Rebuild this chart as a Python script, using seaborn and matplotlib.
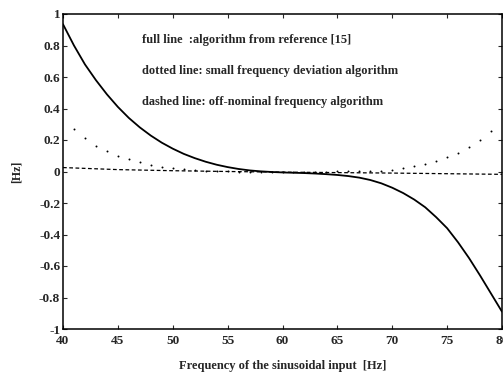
import numpy as np
import pandas as pd
import seaborn as sb
import matplotlib
matplotlib.use("Agg")
import matplotlib.pyplot as plt

# input frequency [Hz]
freq = list(range(40, 81))

# full line: algorithm from reference [15]
full_err = [0.935, 0.80, 0.68, 0.58, 0.49, 0.41, 0.34, 0.28, 0.228, 0.183,
            0.145, 0.112, 0.085, 0.062, 0.043, 0.028, 0.016, 0.007, 0.001, -0.003,
            -0.006, -0.008, -0.01, -0.013, -0.017, -0.022, -0.029, -0.039, -0.054, -0.075,
            -0.103, -0.137, -0.178, -0.227, -0.29, -0.36, -0.45, -0.55, -0.66, -0.775,
            -0.89]

# dotted line: small frequency deviation algorithm (one dot per Hz)
dot_freq = list(range(41, 80))
dot_err = [0.27, 0.21, 0.165, 0.13, 0.10, 0.078, 0.058, 0.043, 0.031,
           0.021, 0.014, 0.009, 0.005, 0.003, 0.001, 0.0, 0.0, 0.0, 0.0,
           0.0, 0.0, 0.0, 0.0, 0.0, 0.001, 0.001, 0.002, 0.003, 0.005,
           0.009, 0.02, 0.034, 0.049, 0.066, 0.091, 0.119, 0.155, 0.20, 0.255]

# dashed line: off-nominal frequency algorithm
dash_freq = [40, 45, 50, 55, 60, 65, 70, 75, 80]
dash_err = [0.025, 0.012, 0.005, 0.0, -0.004, -0.007, -0.01, -0.014, -0.018]

xticks = [40, 45, 50, 55, 60, 65, 70, 75, 80]
yticks = [-1, -0.8, -0.6, -0.4, -0.2, 0, 0.2, 0.4, 0.6, 0.8, 1]
ytick_labels = ["-1", "-0.8", "-0.6", "-0.4", "-0.2", "0", "0.2", "0.4", "0.6", "0.8", "1"]

notes = ["full line  :algorithm from reference [15]",
         "dotted line: small frequency deviation algorithm",
         "dashed line: off-nominal frequency algorithm"]

sb.set_style("ticks")
plt.rcParams["font.family"] = ["Liberation Serif", "DejaVu Serif"]
plt.rcParams["font.weight"] = "bold"

fig = plt.figure(figsize=(5.03, 3.77), dpi=100)
ax = fig.add_axes([63 / 503, 1 - 329 / 377, 439 / 503, 315 / 377])

full = pd.DataFrame({"f": freq, "err": full_err})
dots = pd.DataFrame({"f": dot_freq, "err": dot_err})
dash = pd.DataFrame({"f": dash_freq, "err": dash_err})

sb.lineplot(data=full, x="f", y="err", color="black", linewidth=1.3, ax=ax)
sb.lineplot(data=dash, x="f", y="err", color="black", linewidth=0.9,
            linestyle=(0, (3, 2)), ax=ax)
sb.scatterplot(data=dots, x="f", y="err", color="black", s=2, marker="o",
               linewidth=0, ax=ax)

ax.set_xlim(40, 80)
ax.set_ylim(-1, 1)
ax.set_xticks(xticks)
ax.set_xticklabels([str(t) for t in xticks])
ax.set_yticks(yticks)
ax.set_yticklabels(ytick_labels)
ax.tick_params(direction="in", length=3, width=0.8, labelsize=9.5,
               top=True, right=True, pad=2)
ax.tick_params(axis="x", pad=4)
for s in ax.spines.values():
    s.set_linewidth(1.1)
    s.set_color("black")

for i, note in enumerate(notes):
    ax.text(142 / 503, 1 - (40 + 31 * i) / 377, note, transform=fig.transFigure,
            fontsize=8.9, fontweight="bold", va="center", ha="left")

ax.set_xlabel("Frequency of the sinusoidal input  [Hz]", fontsize=9,
              fontweight="bold", labelpad=10)
ax.set_ylabel("[Hz]", fontsize=8.5, fontweight="bold", labelpad=12)

fig.savefig("out.png", dpi=100)
